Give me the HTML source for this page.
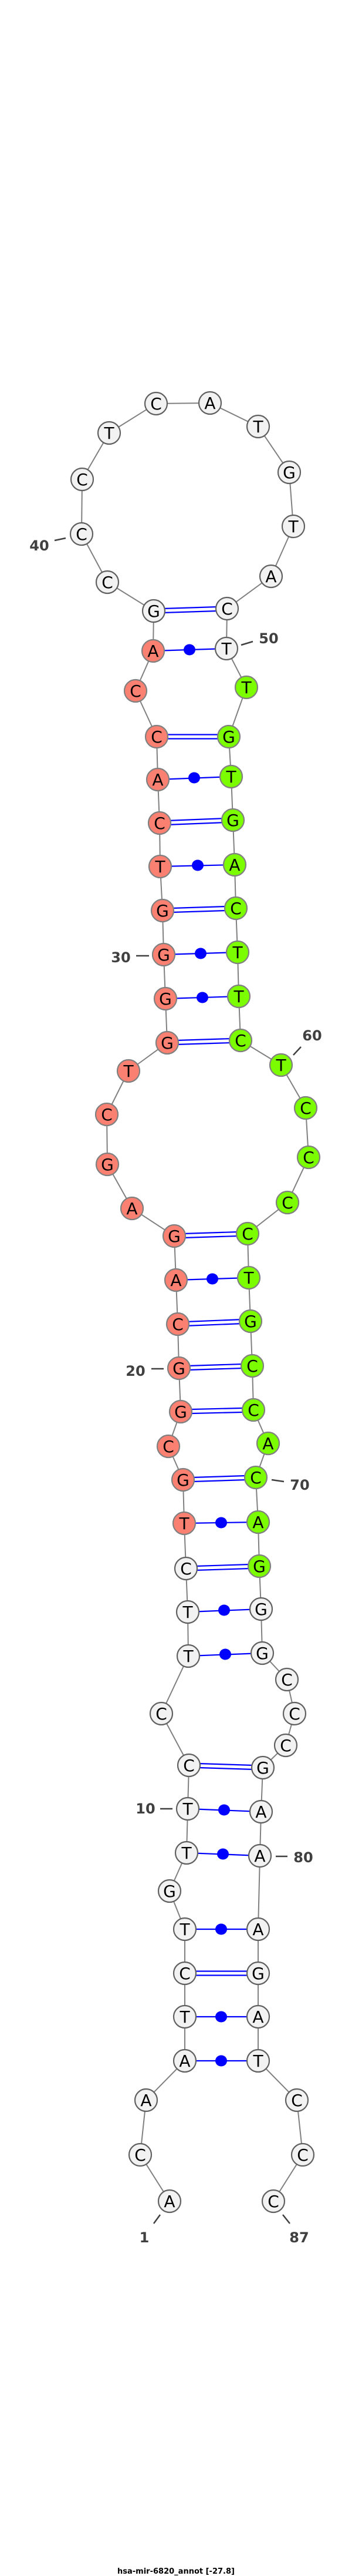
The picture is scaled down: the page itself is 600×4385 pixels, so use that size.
<!DOCTYPE html>
<html><head><meta charset="utf-8"><style>
html,body{margin:0;padding:0;background:#fff;}
svg{display:block;}
.n text{font-family:"DejaVu Sans","Liberation Sans",sans-serif;font-size:28px;text-anchor:middle;}
.lb{font-family:"DejaVu Sans","Liberation Sans",sans-serif;font-size:24px;font-weight:bold;fill:#404040;text-anchor:middle;}
</style></head><body>
<svg width="600" height="4385" viewBox="0 0 600 4385" xmlns="http://www.w3.org/2000/svg">
<polyline fill="none" stroke="#808080" stroke-width="2" points="289,3747 239,3668 249,3575 315,3508 315,3433 315,3359 315,3284 289,3219 318,3154 320,3079 322,3005 275,2917 321,2819 320,2744 317,2670 314,2593 312,2519 287,2462 308,2403 305,2329 303,2254 300,2179 297,2104 225,2057 183,1982 182,1897 219,1823 285,1775 282,1700 279,1625 277,1550 273,1475 272,1401 269,1327 267,1254 231,1176 261,1108 262,1040 183,991 139,909 140,816 186,737 266,687 358,686 440,726 493,804 500,896 462,981 387,1036 386,1104 420,1170 390,1254 394,1322 397,1396 400,1472 402,1546 405,1621 407,1696 410,1771 479,1813 521,1886 526,1970 490,2047 422,2100 424,2175 427,2249 430,2325 432,2400 457,2457 436,2515 440,2591 442,2666 445,2739 447,2814 489,2859 502,2917 487,2971 448,3009 445,3084 443,3159 440,3284 440,3359 440,3433 440,3508 506,3575 516,3668 466,3747"/>
<g stroke="#0000ff" stroke-width="2.2" fill="none">
<path d="M315,3355.5L440,3355.5M315,3362.5L440,3362.5"/>
<path d="M322,3001.5L448,3005.5M322,3008.5L448,3012.5"/>
<path d="M317,2666.5L442,2662.5M317,2673.5L442,2669.5"/>
<path d="M312,2515.5L436,2511.5M312,2522.5L436,2518.5"/>
<path d="M308,2399.5L432,2396.5M308,2406.5L432,2403.5"/>
<path d="M305,2325.5L430,2321.5M305,2332.5L430,2328.5"/>
<path d="M303,2250.5L427,2245.5M303,2257.5L427,2252.5"/>
<path d="M297,2100.5L422,2096.5M297,2107.5L422,2103.5"/>
<path d="M285,1771.5L410,1767.5M285,1778.5L410,1774.5"/>
<path d="M277,1546.5L402,1542.5M277,1553.5L402,1549.5"/>
<path d="M272,1397.5L397,1392.5M272,1404.5L397,1399.5"/>
<path d="M267,1250.5L390,1250.5M267,1257.5L390,1257.5"/>
<path d="M262,1036.5L387,1032.5M262,1043.5L387,1039.5"/>
<path d="M315,3508L440,3508M315,3433L440,3433M315,3284L440,3284M318,3154L443,3159M320,3079L445,3084M321,2819L447,2814M320,2744L445,2739M314,2593L440,2591M300,2179L424,2175M282,1700L407,1696M279,1625L405,1621M273,1475L400,1472M269,1327L394,1322M261,1108L386,1104"/>
</g>
<g fill="#0000ff">
<ellipse cx="377" cy="3508" rx="10" ry="9.5"/><ellipse cx="377" cy="3433" rx="10" ry="9.5"/><ellipse cx="377" cy="3284" rx="10" ry="9.5"/>
<ellipse cx="380" cy="3156" rx="10" ry="9.5"/><ellipse cx="382" cy="3081" rx="10" ry="9.5"/><ellipse cx="384" cy="2816" rx="10" ry="9.5"/>
<ellipse cx="382" cy="2741" rx="10" ry="9.5"/><ellipse cx="377" cy="2592" rx="10" ry="9.5"/><ellipse cx="362" cy="2177" rx="10" ry="9.5"/>
<ellipse cx="345" cy="1698" rx="10" ry="9.5"/><ellipse cx="342" cy="1623" rx="10" ry="9.5"/><ellipse cx="337" cy="1473" rx="10" ry="9.5"/>
<ellipse cx="331" cy="1324" rx="10" ry="9.5"/><ellipse cx="323" cy="1106" rx="10" ry="9.5"/>
</g>
<g class="n" stroke-width="2.2">
<g fill="#f2f2f2" stroke="#606060">
<circle cx="289" cy="3747" r="19"/><circle cx="239" cy="3668" r="19"/><circle cx="249" cy="3575" r="19"/><circle cx="315" cy="3508" r="19"/><circle cx="315" cy="3433" r="19"/><circle cx="315" cy="3359" r="19"/><circle cx="315" cy="3284" r="19"/><circle cx="289" cy="3219" r="19"/><circle cx="318" cy="3154" r="19"/><circle cx="320" cy="3079" r="19"/><circle cx="322" cy="3005" r="19"/><circle cx="275" cy="2917" r="19"/><circle cx="321" cy="2819" r="19"/><circle cx="320" cy="2744" r="19"/><circle cx="317" cy="2670" r="19"/>
<circle cx="262" cy="1040" r="19"/><circle cx="183" cy="991" r="19"/><circle cx="139" cy="909" r="19"/><circle cx="140" cy="816" r="19"/><circle cx="186" cy="737" r="19"/><circle cx="266" cy="687" r="19"/><circle cx="358" cy="686" r="19"/><circle cx="440" cy="726" r="19"/><circle cx="493" cy="804" r="19"/><circle cx="500" cy="896" r="19"/><circle cx="462" cy="981" r="19"/><circle cx="387" cy="1036" r="19"/><circle cx="386" cy="1104" r="19"/>
<circle cx="445" cy="2739" r="19"/><circle cx="447" cy="2814" r="19"/><circle cx="489" cy="2859" r="19"/><circle cx="502" cy="2917" r="19"/><circle cx="487" cy="2971" r="19"/><circle cx="448" cy="3009" r="19"/><circle cx="445" cy="3084" r="19"/><circle cx="443" cy="3159" r="19"/><circle cx="440" cy="3284" r="19"/><circle cx="440" cy="3359" r="19"/><circle cx="440" cy="3433" r="19"/><circle cx="440" cy="3508" r="19"/><circle cx="506" cy="3575" r="19"/><circle cx="516" cy="3668" r="19"/><circle cx="466" cy="3747" r="19"/>
</g>
<g fill="#fa8072" stroke="#808080">
<circle cx="314" cy="2593" r="19"/><circle cx="312" cy="2519" r="19"/><circle cx="287" cy="2462" r="19"/><circle cx="308" cy="2403" r="19"/><circle cx="305" cy="2329" r="19"/><circle cx="303" cy="2254" r="19"/><circle cx="300" cy="2179" r="19"/><circle cx="297" cy="2104" r="19"/><circle cx="225" cy="2057" r="19"/><circle cx="183" cy="1982" r="19"/><circle cx="182" cy="1897" r="19"/><circle cx="219" cy="1823" r="19"/><circle cx="285" cy="1775" r="19"/><circle cx="282" cy="1700" r="19"/><circle cx="279" cy="1625" r="19"/><circle cx="277" cy="1550" r="19"/><circle cx="273" cy="1475" r="19"/><circle cx="272" cy="1401" r="19"/><circle cx="269" cy="1327" r="19"/><circle cx="267" cy="1254" r="19"/><circle cx="231" cy="1176" r="19"/><circle cx="261" cy="1108" r="19"/>
</g>
<g fill="#7cfc00" stroke="#808080">
<circle cx="420" cy="1170" r="19"/><circle cx="390" cy="1254" r="19"/><circle cx="394" cy="1322" r="19"/><circle cx="397" cy="1396" r="19"/><circle cx="400" cy="1472" r="19"/><circle cx="402" cy="1546" r="19"/><circle cx="405" cy="1621" r="19"/><circle cx="407" cy="1696" r="19"/><circle cx="410" cy="1771" r="19"/><circle cx="479" cy="1813" r="19"/><circle cx="521" cy="1886" r="19"/><circle cx="526" cy="1970" r="19"/><circle cx="490" cy="2047" r="19"/><circle cx="422" cy="2100" r="19"/><circle cx="424" cy="2175" r="19"/><circle cx="427" cy="2249" r="19"/><circle cx="430" cy="2325" r="19"/><circle cx="432" cy="2400" r="19"/><circle cx="457" cy="2457" r="19"/><circle cx="436" cy="2515" r="19"/><circle cx="440" cy="2591" r="19"/><circle cx="442" cy="2666" r="19"/>
</g>
<g fill="#000" stroke="none">
<text x="289" y="3757">A</text><text x="239" y="3678">C</text><text x="249" y="3585">A</text><text x="315" y="3518">A</text><text x="315" y="3443">T</text><text x="315" y="3369">C</text><text x="315" y="3294">T</text><text x="289" y="3229">G</text><text x="318" y="3164">T</text><text x="320" y="3089">T</text><text x="322" y="3015">C</text><text x="275" y="2927">C</text><text x="321" y="2829">T</text><text x="320" y="2754">T</text><text x="317" y="2680">C</text>
<text x="314" y="2603">T</text><text x="312" y="2529">G</text><text x="287" y="2472">C</text><text x="308" y="2413">G</text><text x="305" y="2339">G</text><text x="303" y="2264">C</text><text x="300" y="2189">A</text><text x="297" y="2114">G</text><text x="225" y="2067">A</text><text x="183" y="1992">G</text><text x="182" y="1907">C</text><text x="219" y="1833">T</text><text x="285" y="1785">G</text><text x="282" y="1710">G</text><text x="279" y="1635">G</text><text x="277" y="1560">G</text><text x="273" y="1485">T</text><text x="272" y="1411">C</text><text x="269" y="1337">A</text><text x="267" y="1264">C</text><text x="231" y="1186">C</text><text x="261" y="1118">A</text>
<text x="262" y="1050">G</text><text x="183" y="1001">C</text><text x="139" y="919">C</text><text x="140" y="826">C</text><text x="186" y="747">T</text><text x="266" y="697">C</text><text x="358" y="696">A</text><text x="440" y="736">T</text><text x="493" y="814">G</text><text x="500" y="906">T</text><text x="462" y="991">A</text><text x="387" y="1046">C</text><text x="386" y="1114">T</text>
<text x="420" y="1180">T</text><text x="390" y="1264">G</text><text x="394" y="1332">T</text><text x="397" y="1406">G</text><text x="400" y="1482">A</text><text x="402" y="1556">C</text><text x="405" y="1631">T</text><text x="407" y="1706">T</text><text x="410" y="1781">C</text><text x="479" y="1823">T</text><text x="521" y="1896">C</text><text x="526" y="1980">C</text><text x="490" y="2057">C</text><text x="422" y="2110">C</text><text x="424" y="2185">T</text><text x="427" y="2259">G</text><text x="430" y="2335">C</text><text x="432" y="2410">C</text><text x="457" y="2467">A</text><text x="436" y="2525">C</text><text x="440" y="2601">A</text><text x="442" y="2676">G</text>
<text x="445" y="2749">G</text><text x="447" y="2824">G</text><text x="489" y="2869">C</text><text x="502" y="2927">C</text><text x="487" y="2981">C</text><text x="448" y="3019">G</text><text x="445" y="3094">A</text><text x="443" y="3169">A</text><text x="440" y="3294">A</text><text x="440" y="3369">G</text><text x="440" y="3443">A</text><text x="440" y="3518">T</text><text x="506" y="3585">C</text><text x="516" y="3678">C</text><text x="466" y="3757">C</text>
</g>
</g>
<g stroke="#404040" stroke-width="2.5">
<line x1="93" y1="920" x2="112" y2="916"/>
<line x1="411" y1="1098" x2="431" y2="1092"/>
<line x1="232" y1="1627" x2="254" y2="1627"/>
<line x1="500" y1="1796" x2="513" y2="1782"/>
<line x1="258" y1="2330" x2="279" y2="2330"/>
<line x1="463" y1="2519" x2="484" y2="2522"/>
<line x1="273" y1="3079" x2="294" y2="3079"/>
<line x1="470" y1="3160" x2="490" y2="3160"/>
<line x1="273" y1="3770" x2="262" y2="3785"/>
<line x1="482" y1="3770" x2="494" y2="3785"/>
</g>
<text class="lb" x="67" y="937">40</text>
<text class="lb" x="458" y="1095">50</text>
<text class="lb" x="206" y="1638">30</text>
<text class="lb" x="532" y="1771">60</text>
<text class="lb" x="231" y="2342">20</text>
<text class="lb" x="511" y="2536">70</text>
<text class="lb" x="248" y="3087">10</text>
<text class="lb" x="517" y="3170">80</text>
<text class="lb" x="246" y="3817">1</text>
<text class="lb" x="510" y="3817">87</text>
<text x="300" y="4381" font-family="DejaVu Sans, Liberation Sans, sans-serif" font-size="13" font-weight="bold" text-anchor="middle" fill="#000">hsa-mir-6820_annot [-27.8]</text>
</svg>
</body></html>
